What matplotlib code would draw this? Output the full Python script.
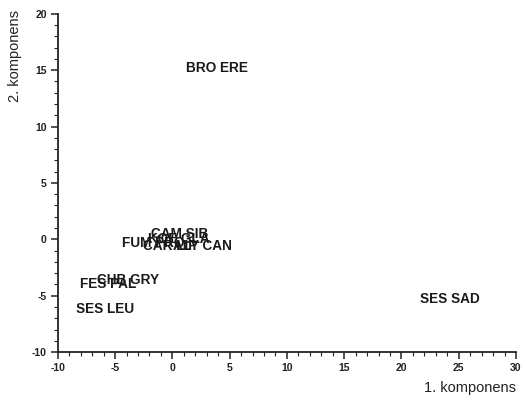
import matplotlib
matplotlib.use("Agg")
import matplotlib.pyplot as plt
from matplotlib.ticker import MultipleLocator

plt.rcParams['font.family'] = ['Liberation Sans', 'DejaVu Sans']
plt.rcParams['axes.unicode_minus'] = False

# Species codes and their scores on the first two components
species = ["BRO ERE", "SES SAD", "SES LEU", "FES PAL", "CHB GRY",
           "CAM SIB", "FUM PRO", "KOE GLA", "CAR LIP", "ALY CAN"]
comp1 = [3.9, 24.2, -5.9, -5.6, -3.9, 0.6, -1.7, 0.6, -0.2, 2.6]
comp2 = [15.2, -5.3, -6.2, -4.0, -3.6, 0.5, -0.3, 0.0, -0.6, -0.6]

xticks = [-10, -5, 0, 5, 10, 15, 20, 25, 30]
yticks = [-10, -5, 0, 5, 10, 15, 20]

fig = plt.figure(figsize=(5.26, 4.07), dpi=100)
ax = fig.add_axes([0.110, 0.135, 0.871, 0.831])

for name, x, y in zip(species, comp1, comp2):
    ax.text(x, y, name, ha='center', va='center', fontsize=9.8,
            fontweight='bold', color='#1a1a1a')

ax.set_xlim(-10, 30)
ax.set_ylim(-10, 20)
ax.set_xticks(xticks)
ax.set_yticks(yticks)
ax.xaxis.set_minor_locator(MultipleLocator(1))
ax.yaxis.set_minor_locator(MultipleLocator(1))

for side in ['top', 'right']:
    ax.spines[side].set_visible(False)
for side in ['left', 'bottom']:
    ax.spines[side].set_linewidth(1.3)
    ax.spines[side].set_color('#222222')

ax.tick_params(which='major', direction='out', length=5, width=1.1,
               labelsize=7.5, colors='#222222', pad=3)
ax.tick_params(which='minor', direction='out', length=3, width=0.8,
               colors='#222222')
for lbl in ax.get_xticklabels() + ax.get_yticklabels():
    lbl.set_fontweight('bold')

fig.text(0.981, 0.030, "1. komponens", ha='right', va='bottom',
         fontsize=10.5, color='#222222')
fig.text(0.015, 0.975, "2. komponens", ha='left', va='top', rotation=90,
         fontsize=10.5, color='#222222')

fig.savefig("out.png", dpi=100)
